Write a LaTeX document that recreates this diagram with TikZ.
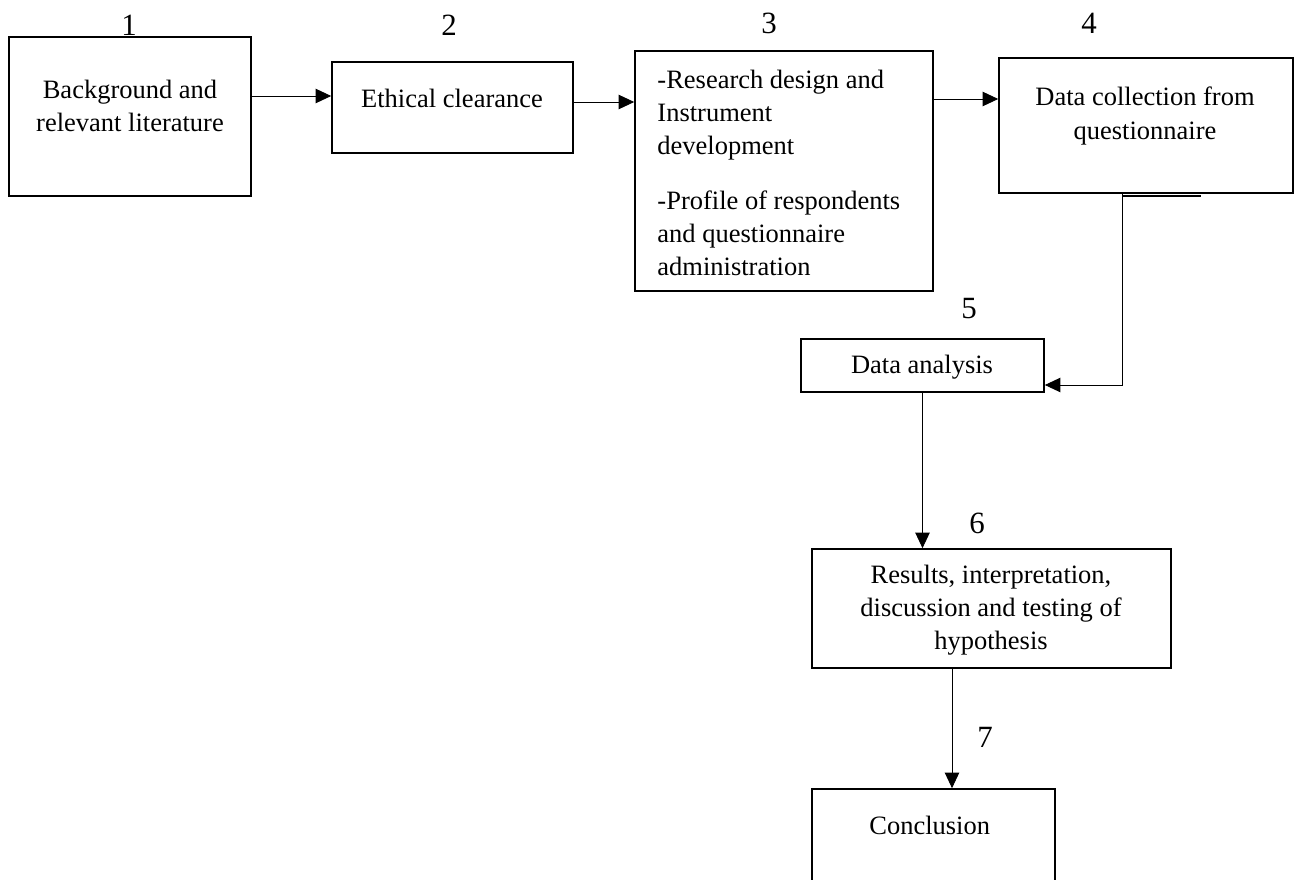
\documentclass[tikz,border=0pt]{standalone}
\usepackage{fontspec}
\setmainfont{Liberation Serif}
\usetikzlibrary{arrows.meta, fit}

\begin{document}
\begin{tikzpicture}
		[
			x=0.453pt, y=-0.453pt,
			box/.style={draw, line width=0.75pt, inner sep=0pt},
			txt/.style={align=center, inner sep=0pt, font=\fontsize{12}{15}\selectfont},
			num/.style={inner sep=0pt, font=\fontsize{14}{16}\selectfont},
			arr/.style={line width=0.4pt, -{Triangle[length=7pt, width=6.5pt]}},
		]
		\useasboundingbox (0,0) rectangle (1301,879);

		% Boxes
		\foreach \name/\xa/\ya/\xb/\yb in
		{
			b1/9/37/251/196,
			b2/332/62/573/153,
			b3/635/51/933/291,
			b4/999/58/1293/193,
			b5/801/339/1044/392,
			b6/812/549/1171/668,
			b7/812/789/1055/900
		}
			\node[box, fit={(\xa,\ya) (\xb,\yb)}] (\name) {};

		% Texts
		\foreach \name/\x/\y/\lines in
		{
			t1/130/106/{Background and\\relevant literature},
			t2/452/98/{Ethical clearance},
			t4/1145/116/{Data collection from\\questionnaire},
			t5/922/367/{Data analysis},
			t6/991/610/{Results, interpretation,\\discussion and testing of\\hypothesis},
			t7/933/825/{Conclusion}
		}
			\node[txt] (\name) at (\x,\y) {\lines};
		\node[txt, align=left, anchor=west] (t3) at (657,173)
			{-Research design and\\Instrument\\development\\[10pt]-Profile of respondents\\and questionnaire\\administration};

		% Step numbers
		\foreach \name/\x/\y/\n in
		{
			n1/129/25/1,
			n2/449/25/2,
			n3/769/23/3,
			n4/1089/23/4,
			n5/969/309/5,
			n6/977/523/6,
			n7/985/737/7
		}
			\node[num] (\name) at (\x,\y) {\n};

		% Edges
		\foreach \u/\v/\y in
		{
			b1/b2/96,
			b2/b3/102,
			b3/b4/99}
			\draw[arr] (\u.east |- 0,\y) -- (\v.west |- 0,\y);
		\draw[arr] (b4.south -| 1122,0) |- (b5.east |- 0,385);
		\draw[box] (b4.south -| 1122,0) ++(0,2) -- ++(79,0);
		\draw[arr] (b5.south) -- (b5.south |- b6.north);
		\draw[arr] (b6.south -| 952,0) -- (b7.north -| 952,0);

		\end{tikzpicture}
\end{document}
